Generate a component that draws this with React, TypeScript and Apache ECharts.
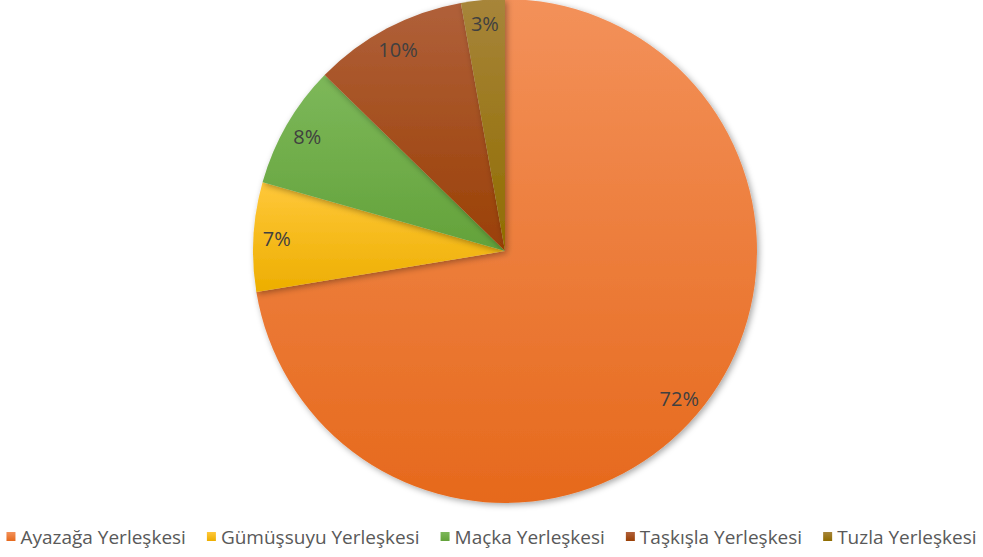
import React, { useEffect, useRef } from "react";
import * as echarts from "echarts";

const categories = [
  "Ayazağa Yerleşkesi",
  "Gümüşsuyu Yerleşkesi",
  "Maçka Yerleşkesi",
  "Taşkışla Yerleşkesi",
  "Tuzla Yerleşkesi",
];
const values = [72.4, 7.0, 7.9, 9.9, 2.8];
const topColors = ["#F3915A", "#FFC83A", "#7DB85A", "#B0603A", "#A7853A"];
const bottomColors = ["#E6691C", "#EDAE00", "#63A23A", "#9A4005", "#906C00"];
const baseColors = ["#ED7D31", "#FFC000", "#70AD47", "#9E480E", "#997300"];

export default function App() {
  const ref = useRef<HTMLDivElement>(null);
  useEffect(() => {
    if (!ref.current) return;
    const chart = echarts.init(ref.current, undefined, { renderer: "svg" });
    const cx = 505;
    const cy = 251;
    const R = 252;
    const mainData = categories.map((name, i) => ({
      name,
      value: values[i],
      itemStyle: {
        color: {
          type: "linear",
          x: 0,
          y: 0,
          x2: 0,
          y2: 1,
          colorStops: [
            { offset: 0, color: topColors[i] },
            { offset: 1, color: bottomColors[i] },
          ],
        },
      },
    }));
    const labelData = categories.map((name, i) => ({ name, value: values[i] }));
    chart.setOption({
      animation: false,
      color: baseColors,
      legend: {
        bottom: 6,
        left: "center",
        itemWidth: 9,
        itemHeight: 9,
        itemGap: 21,
        icon: "rect",
        selectedMode: false,
        data: categories,
        textStyle: { color: "#595959", fontSize: 19, fontFamily: "Open Sans" },
      },
      series: [
        {
          type: "pie",
          center: [cx, cy],
          radius: [0, R],
          startAngle: 90,
          clockwise: true,
          silent: true,
          label: { show: false },
          labelLine: { show: false },
          itemStyle: {
            borderWidth: 0,
            shadowColor: "rgba(0,0,0,0.35)",
            shadowBlur: 6,
            shadowOffsetX: 2,
            shadowOffsetY: 2,
          },
          data: mainData,
        },
        {
          type: "pie",
          center: [cx, cy],
          radius: [0, R * 1.79],
          startAngle: 90,
          clockwise: true,
          silent: true,
          legendHoverLink: false,
          itemStyle: { color: "rgba(0,0,0,0)", borderWidth: 0 },
          label: {
            show: true,
            position: "inside",
            formatter: (p: any) => Math.round(p.percent) + "%",
            color: "#404040",
            fontSize: 20,
            fontFamily: "Open Sans",
          },
          labelLine: { show: false },
          data: labelData,
        },
      ],
    });
    return () => chart.dispose();
  }, []);
  return <div ref={ref} style={{ width: 983, height: 557, position: "absolute", left: 0, top: 0 }} />;
}
